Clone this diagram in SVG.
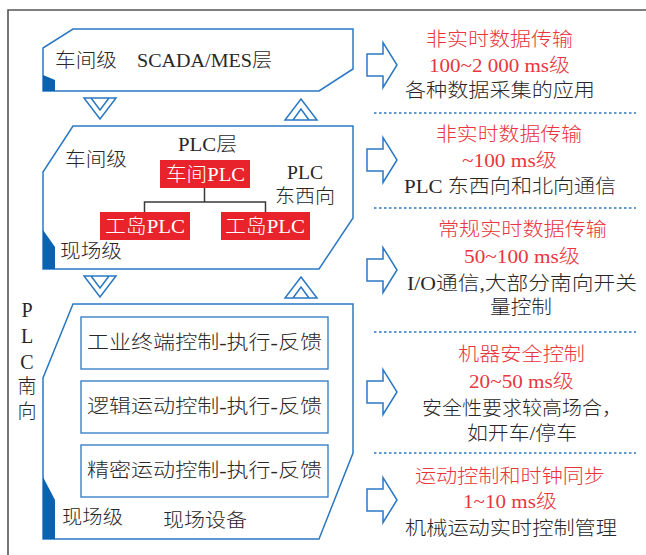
<svg xmlns="http://www.w3.org/2000/svg" width="646" height="555" viewBox="0 0 646 555">
<style>
text{font-family:"Liberation Serif","Noto Sans CJK SC",serif;fill:#2a2627;font-weight:300;}
.l{font-size:19px;}
.r{font-size:19.5px;}
.red{fill:#e9353d;}
.w{fill:#ffffff;font-size:19px;}
.box{fill:#ffffff;stroke:#2a78c2;stroke-width:1.5;}
.ibox{fill:#ffffff;stroke:#2a78c2;stroke-width:1.3;}
.corner{fill:#0b62b0;}
.rbox{fill:#e8232b;}
.sym{fill:none;stroke:#2a78c2;stroke-width:1.5;stroke-linejoin:miter;}
.dot{stroke:#2a78c2;stroke-width:1.3;stroke-dasharray:2.5 2.5;}
.conn{fill:none;stroke:#3a3a3a;stroke-width:1.5;}
</style>
<defs>
<path id="down" class="sym" d="M84,98 L116,98 L100,119 Z M91,98 L100,110 L109,98"/>
<path id="up" class="sym" d="M285,120 L317,120 L301,99 Z M293,120 L301,109 L309,120"/>
<path id="arr" class="sym" d="M367,-11 L383,-11 L383,-22.5 L397,0 L383,22.5 L383,11 L367,11 Z"/>
</defs>
<!-- outer frame -->
<path d="M8,555 L8,10 L646,10" fill="none" stroke="#555" stroke-width="1.6"/>

<g id="node-scada">
<path class="box" d="M73,29 L353,29 L353,69 L319,91 L43,91 L43,48 Z"/>
<path class="corner" d="M43,75 L55,80 L55,91 L43,91 Z"/>
<text class="l" x="55" y="67" textLength="62" lengthAdjust="spacingAndGlyphs">车间级</text>
<text class="l" x="137" y="67" textLength="135" lengthAdjust="spacingAndGlyphs">SCADA/MES层</text>
</g>

<g id="tri-1">
<use href="#down"/>
<use href="#up"/>
</g>

<g id="node-plc">
<path class="box" d="M73,126 L353,126 L353,218 L319,269 L43,269 L43,172 Z"/>
<path class="corner" d="M43,230 L55,247 L55,269 L43,269 Z"/>
<text class="l" x="65" y="166" textLength="62" lengthAdjust="spacingAndGlyphs">车间级</text>
<text class="l" x="178" y="151" textLength="59" lengthAdjust="spacingAndGlyphs">PLC层</text>
<text class="l" x="287" y="179" textLength="36" lengthAdjust="spacingAndGlyphs">PLC</text>
<text class="l" x="275" y="203" textLength="60" lengthAdjust="spacingAndGlyphs">东西向</text>
<text class="l" x="60" y="258" textLength="62" lengthAdjust="spacingAndGlyphs">现场级</text>
</g>

<g id="node-cj-plc">
<rect class="rbox" x="160" y="160" width="90" height="28"/>
<text class="w" x="166" y="181" textLength="79" lengthAdjust="spacingAndGlyphs">车间PLC</text>
</g>
<g id="node-gd-plc-1">
<rect class="rbox" x="100" y="212" width="90" height="28"/>
<text class="w" x="105" y="233" textLength="80" lengthAdjust="spacingAndGlyphs">工岛PLC</text>
</g>
<g id="node-gd-plc-2">
<rect class="rbox" x="221" y="212" width="89" height="28"/>
<text class="w" x="225" y="233" textLength="80" lengthAdjust="spacingAndGlyphs">工岛PLC</text>
</g>

<g id="connectors">
<path class="conn" d="M204.5,188 L204.5,202 M144.5,212 L144.5,202 L265.5,202 L265.5,212"/>
</g>

<g id="tri-2">
<use href="#down" transform="translate(0,178)"/>
<use href="#up" transform="translate(0,178)"/>
</g>

<g id="node-field">
<path class="box" d="M73,304 L353,304 L353,453 L319,539 L43,539 L43,378 Z"/>
<path class="corner" d="M43,477 L55,500 L55,539 L43,539 Z"/>
<text class="l" x="62" y="524" textLength="61" lengthAdjust="spacingAndGlyphs">现场级</text>
<text class="l" x="163" y="527" textLength="84" lengthAdjust="spacingAndGlyphs">现场设备</text>
</g>
<g id="node-f1">
<rect class="ibox" x="81" y="317" width="247" height="52"/>
<text class="l" x="87" y="349" textLength="235" lengthAdjust="spacingAndGlyphs">工业终端控制-执行-反馈</text>
</g>
<g id="node-f2">
<rect class="ibox" x="81" y="381" width="247" height="52"/>
<text class="l" x="87" y="413" textLength="235" lengthAdjust="spacingAndGlyphs">逻辑运动控制-执行-反馈</text>
</g>
<g id="node-f3">
<rect class="ibox" x="81" y="445" width="247" height="52"/>
<text class="l" x="87" y="477" textLength="235" lengthAdjust="spacingAndGlyphs">精密运动控制-执行-反馈</text>
</g>

<g id="label-south">
<text class="l" x="27" y="317" text-anchor="middle" style="font-size:20px">P</text>
<text class="l" x="27" y="343" text-anchor="middle" style="font-size:20px">L</text>
<text class="l" x="27" y="369" text-anchor="middle" style="font-size:20px">C</text>
<text class="l" x="27" y="393" text-anchor="middle">南</text>
<text class="l" x="27" y="418" text-anchor="middle">向</text>
</g>

<g id="right-arrows">
<use href="#arr" transform="translate(0,65)"/>
<use href="#arr" transform="translate(0,160)"/>
<use href="#arr" transform="translate(0,270)"/>
<use href="#arr" transform="translate(0,392)"/>
<use href="#arr" transform="translate(0,500)"/>
</g>

<g id="dividers">
<line class="dot" x1="374" y1="113" x2="636" y2="113"/>
<line class="dot" x1="374" y1="208" x2="636" y2="208"/>
<line class="dot" x1="374" y1="332" x2="636" y2="332"/>
<line class="dot" x1="374" y1="453" x2="636" y2="453"/>
</g>

<g id="desc-1">
<text class="r red" x="426" y="46" textLength="147" lengthAdjust="spacingAndGlyphs">非实时数据传输</text>
<text class="r red" x="429" y="72" textLength="141" lengthAdjust="spacingAndGlyphs">100~2 000 ms级</text>
<text class="r" x="405" y="97" textLength="190" lengthAdjust="spacingAndGlyphs">各种数据采集的应用</text>
</g>
<g id="desc-2">
<text class="r red" x="436" y="141" textLength="146" lengthAdjust="spacingAndGlyphs">非实时数据传输</text>
<text class="r red" x="462" y="167" textLength="95" lengthAdjust="spacingAndGlyphs">~100 ms级</text>
<text class="r" x="404" y="193" textLength="212" lengthAdjust="spacingAndGlyphs">PLC 东西向和北向通信</text>
</g>
<g id="desc-3">
<text class="r red" x="438" y="236" textLength="169" lengthAdjust="spacingAndGlyphs">常规实时数据传输</text>
<text class="r red" x="464" y="263" textLength="116" lengthAdjust="spacingAndGlyphs">50~100 ms级</text>
<text class="r" x="407" y="290" textLength="230" lengthAdjust="spacingAndGlyphs">I/O通信,大部分南向开关</text>
<text class="r" x="490" y="314" textLength="62" lengthAdjust="spacingAndGlyphs">量控制</text>
</g>
<g id="desc-4">
<text class="r red" x="458" y="361" textLength="127" lengthAdjust="spacingAndGlyphs">机器安全控制</text>
<text class="r red" x="469" y="388" textLength="105" lengthAdjust="spacingAndGlyphs">20~50 ms级</text>
<text class="r" x="422" y="415" textLength="200" lengthAdjust="spacingAndGlyphs">安全性要求较高场合，</text>
<text class="r" x="467" y="440" textLength="110" lengthAdjust="spacingAndGlyphs">如开车/停车</text>
</g>
<g id="desc-5">
<text class="r red" x="415" y="483" textLength="190" lengthAdjust="spacingAndGlyphs">运动控制和时钟同步</text>
<text class="r red" x="463" y="508" textLength="94" lengthAdjust="spacingAndGlyphs">1~10 ms级</text>
<text class="r" x="405" y="535" textLength="212" lengthAdjust="spacingAndGlyphs">机械运动实时控制管理</text>
</g>
</svg>
